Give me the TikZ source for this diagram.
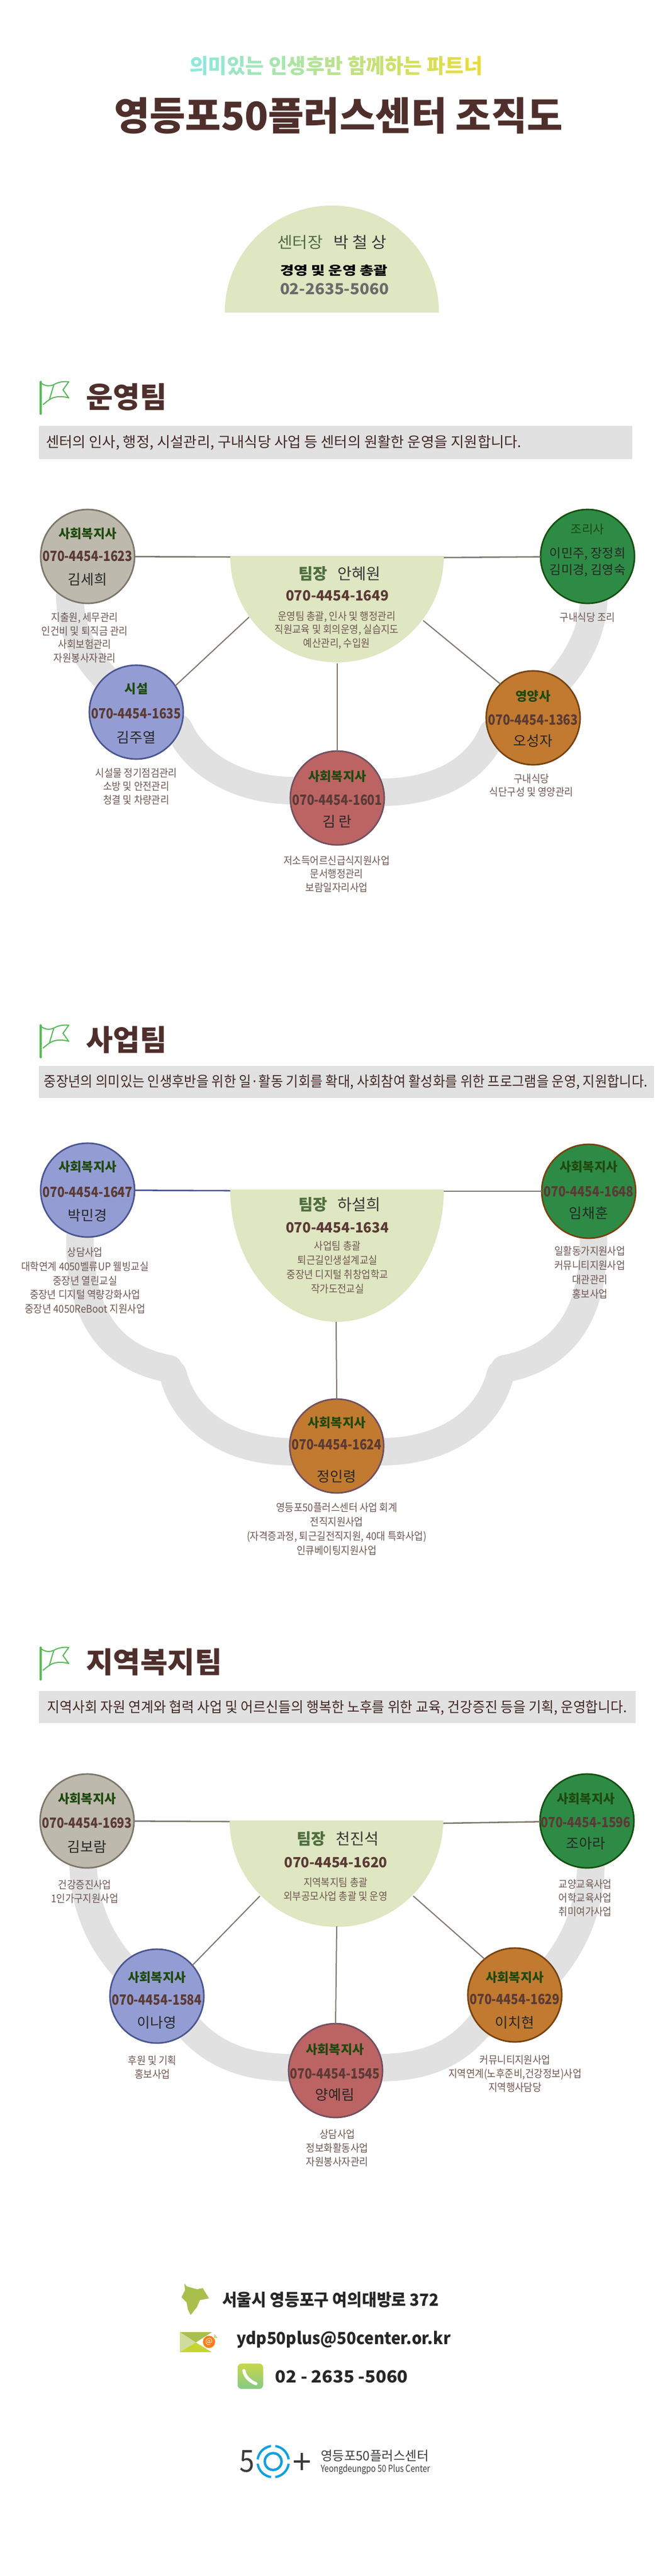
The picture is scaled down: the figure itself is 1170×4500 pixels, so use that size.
\documentclass[tikz,border=0pt]{standalone}
\usepackage{fontspec}
\usepackage{graphicx}
\setmainfont{Noto Sans CJK KR}
\newfontfamily\krdesc[FakeStretch=0.9]{Noto Sans CJK KR}
\definecolor{domeC}{HTML}{DFE6C2}
\definecolor{bandC}{HTML}{E1E1E1}
\definecolor{titleC}{HTML}{4F2F2C}
\definecolor{grayF}{HTML}{BDB9AC}\definecolor{grayB}{HTML}{7D766C}
\definecolor{blueF}{HTML}{949DD3}\definecolor{blueB}{HTML}{4A5590}
\definecolor{greenF}{HTML}{2E8B45}\definecolor{greenB}{HTML}{14500F}
\definecolor{orF}{HTML}{C17A30}\definecolor{orB}{HTML}{774210}
\definecolor{redF}{HTML}{BC6464}\definecolor{redB}{HTML}{715060}
\definecolor{lineC}{HTML}{807A70}
\definecolor{roleC}{HTML}{1F4A0F}
\definecolor{phoneC}{HTML}{5B3A35}
\definecolor{descC}{HTML}{6E5651}
\definecolor{leadC}{HTML}{4F6F3E}
\definecolor{subA}{HTML}{8FE8DC}
\definecolor{subB}{HTML}{E8DC3A}
\definecolor{flagC}{HTML}{5CB85C}
\definecolor{mapC}{HTML}{A9BF4D}
\definecolor{logoB}{HTML}{0F9FE3}
\definecolor{logoD}{HTML}{3C3C3C}
\newsavebox\fitbx
\newcommand\fitw[2]{\sbox\fitbx{#2}\pgfmathsetmacro\fitr{#1*0.75/\wd\fitbx}\scalebox{\fitr}[1]{\usebox\fitbx}}
\newcommand\fs[1]{\fontsize{#1}{#1}\selectfont}
\newcommand\gc[2]{\textcolor{subB!#1!subA}{#2}}
\tikzset{
  txt/.style={inner sep=0pt,outer sep=0pt},
  band/.style={draw=bandC,line width=36pt,line cap=round},
  conn/.style={draw=lineC,line width=1.9pt},
  person/.style={circle,minimum size=123pt,inner sep=0pt,outer sep=0pt,line width=2pt},
  rolet/.style={txt,text=roleC,font=\fs{16.5}\bfseries},
  phonet/.style={txt,text=phoneC,font=\fs{18.5}\bfseries},
  namet/.style={txt,text=black!85,font=\fs{18.5}},
  desct/.style={txt,text=descC,align=center,font=\fontsize{14}{17.6}\krdesc},
  desctb/.style={desct,font=\fontsize{14}{18.6}\krdesc},
  descts/.style={desct,font=\fontsize{14}{18}\krdesc},
  bartxt/.style={txt,text=titleC!85!black,font=\fs{19}},
  headt/.style={txt,text=titleC,font=\fs{38}\bfseries,anchor=west},
  barfill/.style={fill=bandC},
  foott/.style={txt,text=black!85,font=\fs{22}\bfseries,anchor=west},
}
\newcommand\domedown[4]{\fill[domeC] ({#1-#3},#2) .. controls ({#1-#3},{#2+0.5523*#4}) and ({#1-0.5523*#3},{#2+#4}) .. (#1,{#2+#4}) .. controls ({#1+0.5523*#3},{#2+#4}) and ({#1+#3},{#2+0.5523*#4}) .. ({#1+#3},#2) -- cycle;}
\newcommand\flagicon[1]{%
  \draw[flagC,line width=2.6pt,line cap=round] (71,{#1+1}) -- (71,{#1+57});
  \draw[flagC,line width=1.5pt,line join=round] (71,{#1+3}) .. controls (80,{#1+9}) and (87,{#1+9}) .. (94,{#1+6}) .. controls (102,{#1+1}) and (112,{#1+0}) .. (120,{#1+1}) -- (110,{#1+15}) -- (120,{#1+29}) .. controls (110,{#1+26}) and (98,{#1+26}) .. (90,{#1+30}) .. controls (84,{#1+33}) and (80,{#1+37}) .. (75,{#1+41});
  \draw[flagC,line width=1.5pt] (94,{#1+6}) -- (86,{#1+33});}
\newcommand\pc[5]{\node[person,draw=#5,fill=#4] (#1) at (#2,#3) {};}
\newcommand\pctext[8]{%
  \node[rolet] (#1-role) at (#2,#3) {#6};
  \node[phonet] (#1-phone) at (#2,#4) {\fitw{157}{#7}};
  \node[namet] (#1-name) at (#2,#5) {#8};}
\newcommand\leadtext[7]{%
  \node[txt,font=\fs{20.5}] (#1-lead) at (#2,#3) {\textcolor{leadC}{\bfseries 팀장}\hspace{13pt}\textcolor{black!78}{#6}};
  \node[phonet] (#1-phone) at (#4,#5) {\fitw{180}{#7}};}
\begin{document}
\begin{tikzpicture}[x=0.75pt,y=-0.75pt]
\useasboundingbox (0,0) rectangle (1170,4500);
\fill[white] (0,0) rectangle (1170,4500);

% ---- header
\node[txt,font=\fs{27}\bfseries] (subtitle) at (587,115) {\fitw{512}{\gc{0}{의}\gc{7}{미}\gc{14}{있}\gc{21}{는} \gc{28}{인}\gc{35}{생}\gc{42}{후}\gc{49}{반} \gc{56}{함}\gc{63}{께}\gc{70}{하}\gc{77}{는} \gc{84}{파}\gc{92}{트}\gc{100}{너}}};
\node[txt,text=titleC,font=\fs{51}\bfseries] (title) at (591,202) {\fitw{784}{영등포50플러스센터 조직도}};
\fill[domeC] (392.5,546) .. controls (392.5,442.7) and (476.3,359) .. (579.5,359) .. controls (682.7,359) and (766.5,442.7) .. (766.5,546) -- cycle;
\node[txt,font=\fs{20.5}] (ceo) at (579.5,423) {\fitw{191}{\textcolor{leadC}{센터장}\hspace{13pt}\textcolor{black!78}{박 철 상}}};
\node[txt,text=black,font=\fs{16}\bfseries] (ceo-job) at (583,473) {\fitw{188}{경영 및 운영 총괄}};
\node[txt,text=black!58,font=\fs{20}\bfseries] (ceo-phone) at (584,505) {\fitw{190}{02-2635-5060}};

% ---- team 1
\flagicon{666}
\node[headt] (h1) at (150,694) {\fitw{141}{운영팀}};
\fill[barfill] (68,744) rectangle (1104,802);
\node[bartxt] (b1) at (495.5,773) {\fitw{831}{센터의 인사, 행정, 시설관리, 구내식당 사업 등 센터의 원활한 운영을 지원합니다.}};
\draw[band] (122,1040) .. controls (122,1100) and (148,1150) .. (190,1190);
\draw[band] (312,1272) .. controls (345,1345) and (430,1381) .. (510,1381);
\draw[band] (1037,1040) .. controls (1037,1100) and (1010,1150) .. (975,1190);
\draw[band] (665,1384) .. controls (770,1384) and (835,1340) .. (860,1280);
\domedown{588.5}{971}{186.5}{186}
\pc{a1}{153}{972}{grayF}{grayB}
\pc{a2}{1026}{972}{greenF}{greenB}
\pc{a3}{238}{1244}{blueF}{blueB}
\pc{a4}{931}{1254}{orF}{orB}
\pc{a5}{589}{1394}{redF}{redB}
\coordinate (d1l) at (402,973);
\coordinate (d1r) at (775,974);
\coordinate (d1sw) at (435,1078);
\coordinate (d1se) at (739,1084);
\coordinate (d1b) at (589,1159);
\draw[conn] (a1) -- (d1l);
\draw[conn] (d1r) -- (a2);
\draw[conn,line width=1.5pt] (d1sw) -- (a3.34);
\draw[conn,line width=1.5pt] (d1se) -- (a4.134);
\draw[conn,line width=1.5pt] (d1b) -- (a5.north);
\leadtext{d1}{593}{1002}{589}{1041}{안혜원}{070-4454-1649}
\node[desct] (d1-desc) at (588,1101) {운영팀 총괄, 인사 및 행정관리\\직원교육 및 회의운영, 실습지도\\예산관리, 수입원};
\pctext{a1}{153}{932}{972}{1012}{사회복지사}{070-4454-1623}{김세희}
\node[rolet,font=\fs{16}] (a2-role) at (1026,925) {조리사};
\node[txt,text=black!85,font=\fs{16.5}] (a2-names) at (1026,983) {\begin{tabular}{@{}c@{}}이민주, 장정희\\[3pt]김미경, 김영숙\end{tabular}};
\pctext{a3}{238}{1203}{1247}{1288}{시설}{070-4454-1635}{김주열}
\pctext{a4}{931}{1216}{1258}{1294}{영양사}{070-4454-1363}{오성자}
\pctext{a5}{589}{1356}{1398}{1435}{사회복지사}{070-4454-1601}{김 란}
\node[desct] (a1-desc) at (148,1114) {지출원, 세무관리\\인건비 및 퇴직금 관리\\사회보험관리\\자원봉사자관리};
\node[desct] (a2-desc) at (1026,1079) {구내식당 조리};
\node[desct] (a3-desc) at (238,1374) {시설물 정기점검관리\\소방 및 안전관리\\청결 및 차량관리};
\node[desct] (a4-desc) at (928,1372) {구내식당\\식단구성 및 영양관리};
\node[desct] (a5-desc) at (588,1527) {저소득어르신급식지원사업\\문서행정관리\\보람일자리사업};

% ---- team 2
\flagicon{1790}
\node[headt] (h2) at (150,1817) {\fitw{141}{사업팀}};
\fill[barfill] (68,1862) rectangle (1142,1918);
\node[bartxt] (b2) at (604,1890) {\fitw{1054}{중장년의 의미있는 인생후반을 위한 일·활동 기회를 확대, 사회참여 활성화를 위한 프로그램을 운영, 지원합니다.}};
\draw[band] (140,2150) .. controls (135,2280) and (180,2370) .. (295,2391);
\draw[band] (302,2400) .. controls (325,2490) and (410,2536) .. (510,2536);
\draw[band] (1036,2150) .. controls (1041,2280) and (996,2370) .. (881,2391);
\draw[band] (666,2536) .. controls (766,2536) and (851,2490) .. (874,2400);
\domedown{588.5}{2078}{186.5}{231}
\pc{b1}{153}{2079}{blueF}{blueB}
\pc{b2}{1028}{2081}{greenF}{orB}
\pc{b3}{588}{2526}{orF}{redB}
\coordinate (d2l) at (402,2080);
\coordinate (d2r) at (775,2081);
\coordinate (d2b) at (587,2309);
\draw[conn,draw=blueB] (b1) -- (d2l);
\draw[conn] (d2r) -- (b2);
\draw[conn,line width=1.5pt] (d2b) -- (b3.north);
\leadtext{d2}{593}{2104}{589}{2145}{하설희}{070-4454-1634}
\node[desctb] (d2-desc) at (589.5,2214) {사업팀 총괄\\퇴근길인생설계교실\\중장년 디지털 취창업학교\\작가도전교실};
\pctext{b1}{153}{2038}{2083}{2123}{사회복지사}{070-4454-1647}{박민경}
\pctext{b2}{1028}{2038}{2082}{2119}{사회복지사}{070-4454-1648}{임채훈}
\pctext{b3}{588}{2485}{2524}{2579}{사회복지사}{070-4454-1624}{정인령}
\node[desctb] (b1-desc) at (148.5,2237) {상담사업\\대학연계 4050벨류UP 웰빙교실\\중장년 열린교실\\중장년 디지털 역량강화사업\\중장년 4050ReBoot 지원사업};
\node[desctb] (b2-desc) at (1030,2223) {일활동가지원사업\\커뮤니티지원사업\\대관관리\\홍보사업};
\node[desctb] (b3-desc) at (588,2671) {영등포50플러스센터 사업 회계\\전직지원사업\\(자격증과정, 퇴근길전직지원, 40대 특화사업)\\인큐베이팅지원사업};

% ---- team 3
\flagicon{2877}
\node[headt] (h3) at (150,2904) {\fitw{238}{지역복지팀}};
\fill[barfill] (68,2954) rectangle (1110,3010);
\node[bartxt] (b3) at (589,2983) {\fitw{1012}{지역사회 자원 연계와 협력 사업 및 어르신들의 행복한 노후를 위한 교육,  건강증진 등을 기획, 운영합니다.}};
\draw[band] (145,3250) .. controls (145,3320) and (170,3385) .. (215,3435);
\draw[band] (333,3545) .. controls (375,3590) and (430,3612) .. (510,3612);
\draw[band] (1032,3250) .. controls (1032,3320) and (1010,3385) .. (965,3440);
\draw[band] (660,3612) .. controls (740,3612) and (795,3590) .. (838,3537);
\domedown{587.5}{3180}{186.5}{186}
\pc{c1}{152}{3181}{grayF}{grayB}
\pc{c2}{1025}{3181}{greenF}{greenB}
\pc{c3}{274}{3487}{blueF}{blueB}
\pc{c4}{899}{3485}{orF}{orB}
\pc{c5}{586}{3617}{redF}{redB}
\coordinate (d3l) at (401,3182);
\coordinate (d3r) at (774,3185);
\coordinate (d3sw) at (454,3312);
\coordinate (d3se) at (721.5,3312);
\coordinate (d3b) at (588,3365);
\draw[conn] (c1) -- (d3l);
\draw[conn] (d3r) -- (c2);
\draw[conn,line width=1.5pt] (d3sw) -- (c3.41);
\draw[conn,line width=1.5pt] (d3se) -- (c4.130);
\draw[conn,line width=1.5pt] (d3b) -- (c5.north);
\leadtext{d3}{590}{3212}{586.5}{3254}{천진석}{070-4454-1620}
\node[descts] (d3-desc) at (586,3300) {지역복지팀 총괄\\외부공모사업 총괄 및 운영};
\pctext{c1}{152}{3142}{3185}{3226}{사회복지사}{070-4454-1693}{김보람}
\pctext{c2}{1023}{3142}{3184}{3220}{사회복지사}{070-4454-1596}{조아라}
\pctext{c3}{274}{3454}{3494}{3533}{사회복지사}{070-4454-1584}{이나영}
\pctext{c4}{899}{3454}{3493}{3533}{사회복지사}{070-4454-1629}{이치현}
\pctext{c5}{585}{3580}{3622}{3659}{사회복지사}{070-4454-1545}{양예림}
\node[descts] (c1-desc) at (148,3304) {건강증진사업\\1인가구지원사업};
\node[descts] (c2-desc) at (1022,3315.5) {교양교육사업\\어학교육사업\\취미여가사업};
\node[descts] (c3-desc) at (266,3611.5) {후원 및 기획\\홍보사업};
\node[descts] (c4-desc) at (899.5,3622) {커뮤니티지원사업\\지역연계(노후준비,건강정보)사업\\지역행사담당};
\node[descts] (c5-desc) at (589,3752) {상담사업\\정보화활동사업\\자원봉사자관리};

% ---- footer
\fill[mapC] (322,3989) -- (326,3994) -- (344,3999) -- (354,3997) -- (365,4015) -- (349,4018) -- (344,4030) -- (333,4044) -- (328,4034) -- (326,4022) -- (317,4013) -- (323,4001) -- cycle;
\node[foott] (addr) at (388,4017) {\fitw{379}{서울시 영등포구 여의대방로 372}};
\fill[mapC] (314,4074) -- (370,4074) -- (342,4092) -- cycle;
\fill[mapC!55!white] (314,4074) -- (314,4109) -- (342,4092) -- cycle;
\fill[mapC!65!yellow] (314,4109) -- (370,4109) -- (342,4092) -- cycle;
\fill[mapC!70!white] (374,4077) -- (380,4084) -- (374,4084) -- cycle;
\node[circle,fill=orange!85!red!90,minimum size=16pt,inner sep=0pt,text=white,font=\fs{10}] (mail-at) at (365,4091) {@};
\node[foott] (mail) at (413,4087) {\fitw{374}{ydp50plus@50center.or.kr}};
\shade[top color=mapC!70!yellow!90!white,bottom color=flagC!75!white,rounded corners=5pt] (415,4129) rectangle (459.5,4173);
\draw[white,line width=4.2pt,line cap=round] (426,4141) .. controls (427,4151) and (436,4160) .. (447,4164);
\node[foott] (tel) at (480.5,4152) {\fitw{232}{02 - 2635 -5060}};
\node[txt,text=logoD,font=\fs{40}] (logo5) at (431,4300) {\fitw{26}{5}};
\coordinate (logoC) at (477,4300);
\draw[logoB,line width=3.2pt] (logoC) circle[radius=11pt];
\foreach \a in {8,98,188,278}{
  \draw[logoB,line width=3pt] ([shift={(\a:20.5pt)}]logoC) arc[start angle=\a,end angle=\a+74,radius=20.5pt];
}
\draw[logoD,line width=3.2pt] (513,4300) -- (541,4300);
\draw[logoD,line width=3.2pt] (527,4285) -- (527,4315);
\node[txt,text=logoD,font=\fs{17}] (logo-kr) at (654.5,4290) {\fitw{189}{영등포50플러스센터}};
\node[txt,text=logoD,font=\fs{12.5}] (logo-en) at (655.5,4314) {\fitw{191}{Yeongdeungpo 50 Plus Center}};
\end{tikzpicture}
\end{document}
